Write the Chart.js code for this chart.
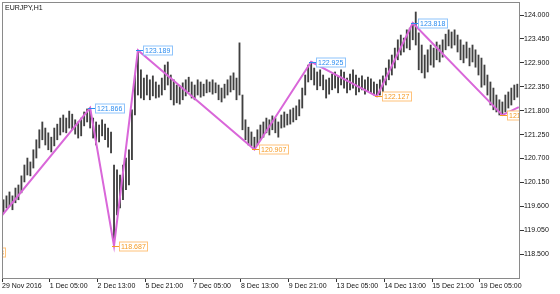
<!DOCTYPE html>
<html>
<head>
<meta charset="utf-8">
<style>
  html, body { margin: 0; padding: 0; background: #fff; }
  #wrap { width: 560px; height: 294px; }
</style>
<script src="https://cdn.jsdelivr.net/npm/chart.js@4.4.1/dist/chart.umd.min.js"></script>
</head>
<body>
<div id="wrap"><canvas id="chart"></canvas></div>
<script>
// EURJPY H1, one bar per two hours
const highs = [
  119.75, 119.84, 119.93, 119.84, 120.02, 120.09, 120.30, 120.55, 120.71, 120.62,
  120.90, 121.13, 121.36, 121.54, 121.40, 121.29, 121.19, 121.40, 121.49, 121.63,
  121.70, 121.63, 121.79, 121.72, 121.59, 121.54, 121.63, 121.77, 121.84, 121.866,
  121.63, 121.54, 121.47, 121.59, 121.49, 121.40, 121.31, 120.55, 120.44, 120.32,
  120.55, 120.71, 120.90, 121.82, 122.62, 123.189, 122.74, 122.55, 122.62, 122.51,
  122.60, 122.46, 122.39, 122.55, 122.85, 122.92, 122.62, 122.51, 122.39, 122.37,
  122.44, 122.51, 122.57, 122.46, 122.39, 122.51, 122.46, 122.41, 122.51, 122.46,
  122.51, 122.44, 122.39, 122.32, 122.41, 122.51, 122.60, 122.67, 122.55, 123.36,
  122.16, 121.59, 121.42, 121.31, 121.19, 121.36, 121.47, 121.54, 121.63, 121.59,
  121.68, 121.63, 121.54, 121.70, 121.77, 121.72, 121.82, 121.86, 121.91, 122.05,
  122.32, 122.62, 122.85, 122.925, 122.78, 122.69, 122.74, 122.62, 122.51, 122.55,
  122.64, 122.69, 122.60, 122.74, 122.69, 122.55, 122.64, 122.74, 122.62, 122.55,
  122.60, 122.51, 122.57, 122.53, 122.46, 122.41, 122.51, 122.60, 122.78, 122.97,
  123.08, 123.24, 123.43, 123.54, 123.47, 123.66, 123.70, 123.818, 124.07, 123.59,
  123.31, 123.08, 123.20, 123.31, 123.24, 123.38, 123.31, 123.43, 123.56, 123.66,
  123.61, 123.66, 123.54, 123.43, 123.31, 123.38, 123.24, 123.31, 123.20, 123.08,
  123.01, 122.85, 122.62, 122.46, 122.32, 122.16, 122.05, 122.00, 122.16, 122.23,
  122.32, 122.39, 122.41
];
const lows = [
  119.45, 119.56, 119.61, 119.52, 119.68, 119.75, 119.91, 120.16, 120.32, 120.30,
  120.48, 120.71, 120.94, 121.13, 121.01, 120.90, 120.85, 120.99, 121.13, 121.24,
  121.31, 121.29, 121.40, 121.36, 121.26, 121.17, 121.22, 121.45, 121.54, 121.40,
  121.17, 121.01, 121.08, 121.22, 121.13, 120.96, 120.83, 118.687, 119.40, 119.56,
  119.75, 119.98, 120.09, 120.67, 121.70, 122.16, 122.09, 122.05, 122.16, 122.05,
  122.14, 122.09, 122.11, 122.16, 122.28, 122.39, 122.05, 121.93, 121.98, 121.95,
  122.05, 122.14, 122.23, 122.09, 122.05, 122.16, 122.11, 122.14, 122.21, 122.23,
  122.18, 122.21, 122.05, 122.00, 122.09, 122.16, 122.23, 122.28, 122.05, 122.16,
  121.36, 121.13, 121.01, 120.99, 120.907, 121.01, 121.13, 121.19, 121.29, 121.24,
  121.36, 121.29, 121.19, 121.40, 121.42, 121.47, 121.49, 121.54, 121.59, 121.68,
  121.86, 122.16, 122.46, 122.51, 122.39, 122.28, 122.37, 122.28, 122.09, 122.18,
  122.28, 122.32, 122.21, 122.39, 122.32, 122.21, 122.28, 122.32, 122.16, 122.23,
  122.28, 122.18, 122.25, 122.21, 122.16, 122.127, 122.16, 122.23, 122.39, 122.51,
  122.62, 122.78, 122.97, 123.08, 123.15, 123.24, 123.20, 123.43, 123.31, 122.74,
  122.67, 122.55, 122.69, 122.85, 122.80, 122.97, 122.92, 123.03, 123.20, 123.29,
  123.24, 123.31, 123.15, 122.97, 122.90, 123.01, 122.83, 122.92, 122.80, 122.62,
  122.34, 122.39, 122.16, 121.93, 121.82, 121.77, 121.70, 121.697, 121.77, 121.86,
  121.93, 122.05, 122.11
];

// zigzag turning points: bar index and price
const zigzagIndex = [-10.5, 29, 37, 45, 84, 103, 125, 137, 167, 172.5];
const zigzagPrice = [118.553, 121.866, 118.687, 123.189, 120.907, 122.925, 122.127, 123.818, 121.697, 121.88];
const zigzagText = ['118.553', '121.866', '118.687', '123.189', '120.907', '122.925', '122.127', '123.818', '121.697', ''];
const zigzagKind = ['low', 'high', 'low', 'high', 'low', 'high', 'low', 'high', 'low', ''];

const timeLabels = ['29 Nov 2016', '1 Dec 05:00', '2 Dec 13:00', '5 Dec 21:00', '7 Dec 05:00', '8 Dec 13:00',
  '9 Dec 21:00', '13 Dec 05:00', '14 Dec 13:00', '15 Dec 21:00', '19 Dec 05:00'];
const priceTicks = [118.5, 119.05, 119.6, 120.15, 120.7, 121.25, 121.8, 122.35, 122.9, 123.45, 124.0];

const FONT = { family: 'Liberation Sans, Arial, sans-serif', size: 7 };
const frameColor = '#8a8a8a';
const labelColors = {
  high: { text: '#2b8cf0', box: '#8ec3fb' },
  low: { text: '#f59a23', box: '#ffc27a' }
};

// title, frame and price boxes at the turning points
const decorations = {
  id: 'decorations',
  afterDatasetsDraw(chart) {
    const { ctx, chartArea: a, scales: { x, y } } = chart;
    ctx.save();
    ctx.beginPath();
    ctx.rect(a.left, a.top, a.right - a.left, a.bottom - a.top);
    ctx.clip();
    ctx.font = `${FONT.size}px ${FONT.family}`;
    ctx.textBaseline = 'middle';
    ctx.textAlign = 'left';
    zigzagText.forEach((txt, i) => {
      if (!txt) return;
      const c = labelColors[zigzagKind[i]];
      const px = Math.round(x.getPixelForValue(zigzagIndex[i]));
      const py = Math.round(y.getPixelForValue(zigzagPrice[i])) + 0.5;
      const w = Math.ceil(ctx.measureText(txt).width) + 3;
      const bx = px + 5;
      ctx.strokeStyle = c.text;
      ctx.lineWidth = 1;
      ctx.beginPath();
      ctx.moveTo(px - 2, py);
      ctx.lineTo(bx, py);
      ctx.stroke();
      ctx.fillStyle = '#fff';
      ctx.fillRect(bx, py - 4.5, w, 9);
      ctx.strokeStyle = c.box;
      ctx.strokeRect(bx + 0.5, py - 4.5, w, 9);
      ctx.fillStyle = c.text;
      ctx.fillText(txt, bx + 2, py + 0.5);
    });
    ctx.restore();

    ctx.save();
    ctx.strokeStyle = frameColor;
    ctx.lineWidth = 1;
    ctx.strokeRect(a.left + 0.5, a.top + 0.5, a.right - a.left - 1, a.bottom - a.top);
    ctx.fillStyle = '#111';
    ctx.font = `${FONT.size}px ${FONT.family}`;
    ctx.textBaseline = 'middle';
    ctx.fillText('EURJPY,H1', a.left + 3, a.top + 6);
    ctx.restore();
  }
};

new Chart(document.getElementById('chart'), {
  type: 'bar',
  data: {
    datasets: [
      {
        type: 'line',
        data: zigzagIndex.map((v, i) => ({ x: v, y: zigzagPrice[i] })),
        borderColor: '#d967d9',
        borderWidth: 2,
        pointRadius: 0,
        tension: 0,
        order: 0
      },
      {
        data: highs.map((h, i) => ({ x: i, y: [lows[i], h] })),
        backgroundColor: '#404040',
        barThickness: 1.2,
        borderSkipped: false,
        order: 1
      }
    ]
  },
  plugins: [decorations],
  options: {
    responsive: true,
    maintainAspectRatio: false,
    animation: false,
    layout: { padding: { top: 2, left: 2, right: 0, bottom: 0 } },
    plugins: {
      legend: { display: false },
      tooltip: { enabled: false }
    },
    scales: {
      x: {
        type: 'linear',
        offset: false,
        min: -0.5,
        max: 172.9,
        afterBuildTicks: scale => {
          scale.ticks = timeLabels.map((_, k) => ({ value: -0.5 + 16 * k }));
        },
        afterFit: scale => {
          scale.height = 16;
          scale.paddingLeft = 0;
          scale.paddingRight = 0;
        },
        grid: { drawOnChartArea: false, offset: false, tickLength: 4, color: '#333' },
        border: { display: false },
        ticks: {
          autoSkip: false,
          maxRotation: 0,
          align: 'start',
          padding: 0,
          color: '#111',
          font: FONT,
          callback: (v, i) => timeLabels[i]
        }
      },
      y: {
        position: 'right',
        min: 117.95,
        max: 124.30,
        afterBuildTicks: scale => {
          scale.ticks = priceTicks.map(v => ({ value: v }));
        },
        afterFit: scale => {
          scale.width = 40;
          scale.paddingTop = 0;
          scale.paddingBottom = 0;
        },
        grid: { drawOnChartArea: false, tickLength: 4, color: '#333' },
        border: { display: false },
        ticks: {
          padding: 0,
          color: '#111',
          font: FONT,
          callback: v => v.toFixed(3)
        }
      }
    }
  }
});
</script>
</body>
</html>
